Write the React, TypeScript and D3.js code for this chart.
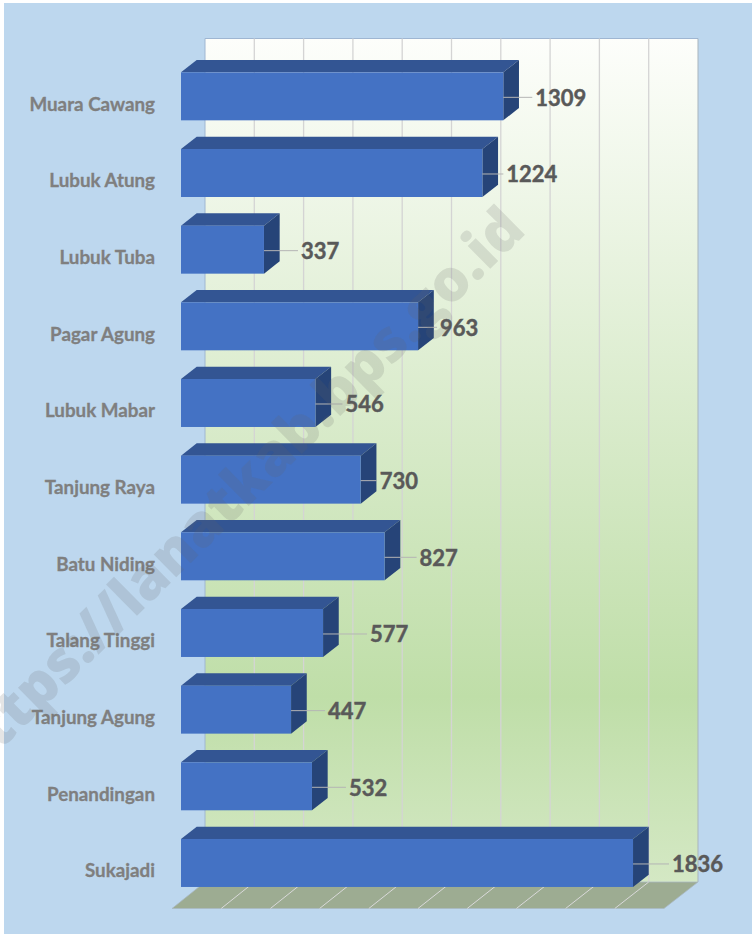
import React from 'react';
import * as d3 from 'd3';

const categories = ['Muara Cawang', 'Lubuk Atung', 'Lubuk Tuba', 'Pagar Agung', 'Lubuk Mabar', 'Tanjung Raya', 'Batu Niding', 'Talang Tinggi', 'Tanjung Agung', 'Penandingan', 'Sukajadi'];
const values = [1309, 1224, 337, 963, 546, 730, 827, 577, 447, 532, 1836];
const axisTicks = d3.range(0, 2001, 200);

const width = 752;
const height = 934;
// gap between bar end and its value label, as placed by hand in the original
const labelGaps = [32, 24, 37, 22, 30, 19, 35, 47, 37, 37, 39];

const App = () => {
  const xFloor = d3.scaleLinear().domain([0, 2000]).range([172, 664]);
  const xWall = d3.scaleLinear().domain([0, 2000]).range([205, 698]);
  const xBar = d3.scaleLinear().domain([0, 2000]).range([181, 673.4]);
  const y = d3.scaleBand().domain(categories).range([58, 901.3]).paddingInner(0.374).paddingOuter(0.187);
  const dx = 15.7;
  const dy = 12.3;
  const wallTop = 38.5;
  const wallBottom = 882;
  const floorFront = 908.5;
  const polygon = d3.line();

  return (
    <svg width={width} height={height} style={{ position: 'absolute', left: 0, top: 0, display: 'block' }}>
      <defs>
        <linearGradient id="wall" x1="0" y1="0" x2="0" y2="1">
          <stop offset="0" stopColor="#fdfefb" />
          <stop offset="0.45" stopColor="#d9ebcb" />
          <stop offset="0.78" stopColor="#bfdea8" />
          <stop offset="1" stopColor="#d4e8c4" />
        </linearGradient>
      </defs>
      <rect x={0} y={0} width={width} height={height} fill="#fff" />
      <rect x={4} y={3} width={width - 4} height={height - 3} fill="#bdd7ee" />

      <rect x={xWall(0)} y={wallTop} width={xWall(2000) - xWall(0)} height={wallBottom - wallTop} fill="url(#wall)" />
      <path d={`M${xWall(0)},${wallBottom}V${wallTop}H${xWall(2000)}`} fill="none" stroke="#9fb6d2" strokeWidth={1} />
      <line x1={xWall(2000)} x2={xWall(2000)} y1={wallTop} y2={wallBottom} stroke="#a9b5bd" />
      {axisTicks.slice(1, -1).map(t => (
        <line key={t} x1={xWall(t)} x2={xWall(t)} y1={wallTop} y2={wallBottom} stroke="#d4d4d4" strokeWidth={1.3} />
      ))}

      <path
        d={polygon([[xFloor(0), floorFront], [xWall(0), wallBottom], [xWall(2000), wallBottom], [xFloor(2000), floorFront]])! + 'Z'}
        fill="#9dac92"
        stroke="#a9b8c4"
        strokeWidth={0.75}
      />
      {axisTicks.slice(1, -1).map(t => (
        <line key={t} x1={xFloor(t)} x2={xWall(t)} y1={floorFront} y2={wallBottom} stroke="#d9d9d9" strokeWidth={1} />
      ))}

      {categories.map((c, i) => {
        const x0 = xBar(0);
        const x1 = xBar(values[i]);
        const top = y(c)!;
        const bottom = top + y.bandwidth();
        const mid = (top + bottom) / 2;
        return (
          <g key={c}>
            <path d={polygon([[x0, top], [x0 + dx, top - dy], [x1 + dx, top - dy], [x1, top]])! + 'Z'} fill="#335593" />
            <path d={polygon([[x1, top], [x1 + dx, top - dy], [x1 + dx, bottom - dy], [x1, bottom]])! + 'Z'} fill="#264478" />
            <rect x={x0} y={top} width={x1 - x0} height={bottom - top} fill="#4472c4" />
            <line x1={x1} x2={x1 + labelGaps[i] - 3} y1={mid + 1} y2={mid + 1} stroke="#b5b5b5" strokeWidth={1} />
            <text x={x1 + labelGaps[i]} y={mid + 9.5} fontFamily="Lato" fontWeight={700} fontSize={22} fill="#595959" stroke="#595959" strokeWidth={0.45}>
              {values[i]}
            </text>
            <text x={155} y={mid + 14.5} textAnchor="end" fontFamily="Lato" fontWeight={700} fontSize={18.8} fill="#7f7f7f" stroke="#7f7f7f" strokeWidth={0.3}>
              {c}
            </text>
          </g>
        );
      })}

      <text
        transform="translate(-28,778) rotate(-44.5)"
        fontFamily="Open Sans"
        fontWeight={800}
        fontSize={58}
        fill="#666"
        fillOpacity={0.17}
      >
        https://lanatkab.bps.go.id
      </text>
    </svg>
  );
};

export default App;
